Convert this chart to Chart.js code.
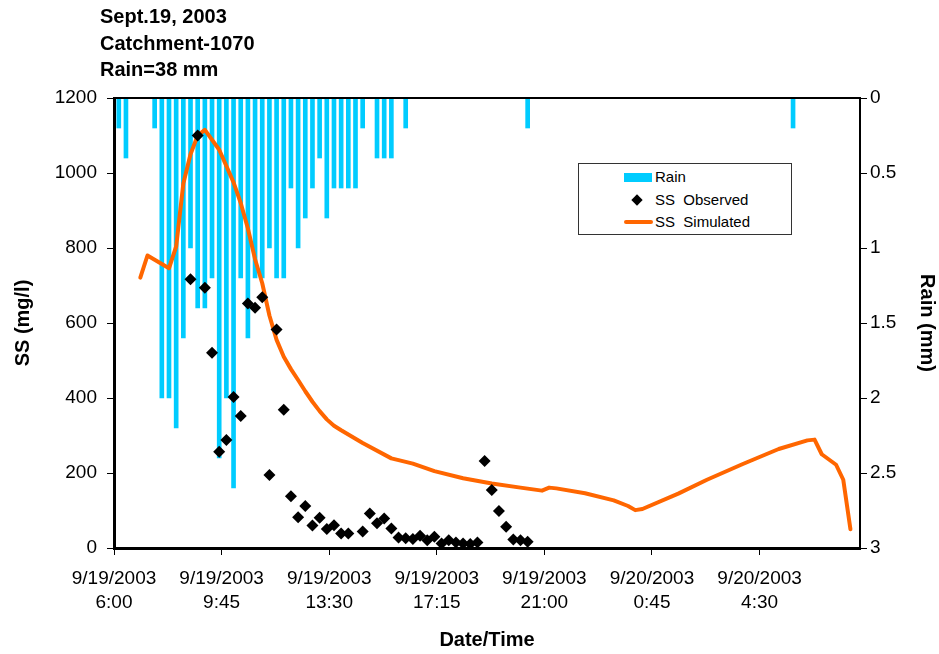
<!DOCTYPE html>
<html>
<head>
<meta charset="utf-8">
<title>SS Catchment-1070</title>
<script src="https://cdn.jsdelivr.net/npm/chart.js@4.4.1/dist/chart.umd.min.js"></script>
<style>
    html, body { margin: 0; padding: 0; background: #fff; }
    #contenedor { position: relative; width: 939px; height: 654px; font-family: "Liberation Sans", Arial, sans-serif; color: #000; }
    #grafico { position: absolute; left: 0; top: 0; }
    #titulo { position: absolute; left: 100px; top: 3px; font-size: 20px; font-weight: bold; line-height: 26.5px; }
    #leyenda { position: absolute; left: 578px; top: 163px; width: 212px; height: 68px; border: 1px solid #333; background: #fff; padding-top: 2px; box-sizing: content-box; }
    #leyenda .fila { position: relative; height: 22.5px; font-size: 15px; line-height: 22.5px; white-space: pre; }
    #leyenda .texto { position: absolute; left: 76px; top: 0; }
    #leyenda .simbolo { position: absolute; }
</style>
</head>
<body>
<div id="contenedor">
    <canvas id="grafico" width="939" height="654"></canvas>
    <div id="titulo">Sept.19, 2003<br>Catchment-1070<br>Rain=38 mm</div>
    <div id="leyenda"></div>
</div>
<script>
const tiemposLluvia = ['9/19 6:10', '9/19 6:25', '9/19 7:25', '9/19 7:40', '9/19 7:55', '9/19 8:10', '9/19 8:25',
    '9/19 8:40', '9/19 8:55', '9/19 9:10', '9/19 9:25', '9/19 9:40', '9/19 9:55', '9/19 10:10', '9/19 10:25',
    '9/19 10:40', '9/19 10:55', '9/19 11:10', '9/19 11:25', '9/19 11:40', '9/19 11:55', '9/19 12:10', '9/19 12:25',
    '9/19 12:40', '9/19 12:55', '9/19 13:10', '9/19 13:25', '9/19 13:40', '9/19 13:55', '9/19 14:10', '9/19 14:25',
    '9/19 14:40', '9/19 15:10', '9/19 15:25', '9/19 15:40', '9/19 16:10', '9/19 20:25', '9/20 5:40'];
const lluvia = [0.2, 0.4, 0.2, 2.0, 2.0, 2.2, 1.6,
    1.0, 1.4, 1.4, 1.2, 2.4, 2.0, 2.6, 1.2,
    1.6, 1.2, 1.2, 1.0, 1.2, 1.2, 0.6, 1.0,
    0.8, 0.6, 0.4, 0.8, 0.6, 0.6, 0.6, 0.6,
    0.2, 0.4, 0.4, 0.4, 0.2, 0.2, 0.2];

const tiemposObservados = ['9/19 8:40', '9/19 8:55', '9/19 9:10', '9/19 9:25', '9/19 9:40', '9/19 9:55', '9/19 10:10',
    '9/19 10:25', '9/19 10:40', '9/19 10:55', '9/19 11:10', '9/19 11:25', '9/19 11:40', '9/19 11:55', '9/19 12:10',
    '9/19 12:25', '9/19 12:40', '9/19 12:55', '9/19 13:10', '9/19 13:25', '9/19 13:40', '9/19 13:55', '9/19 14:10',
    '9/19 14:40', '9/19 14:55', '9/19 15:10', '9/19 15:25', '9/19 15:40', '9/19 15:55', '9/19 16:10', '9/19 16:25',
    '9/19 16:40', '9/19 16:55', '9/19 17:10', '9/19 17:25', '9/19 17:40', '9/19 17:55', '9/19 18:10', '9/19 18:25',
    '9/19 18:40', '9/19 18:55', '9/19 19:10', '9/19 19:25', '9/19 19:40', '9/19 19:55', '9/19 20:10', '9/19 20:25'];
const ssObservado = [717, 1100, 694, 521, 257, 288, 403,
    352, 652, 641, 669, 195, 583, 369, 138,
    82, 112, 60, 81, 51, 61, 39, 39,
    44, 92, 66, 79, 52, 28, 26, 24,
    33, 21, 30, 12, 21, 15, 12, 11,
    15, 232, 155, 99, 57, 23, 21, 17];

const tiemposSimulados = ['9/19 6:55', '9/19 7:10', '9/19 7:55', '9/19 8:10', '9/19 8:25', '9/19 8:40', '9/19 8:55',
    '9/19 9:10', '9/19 9:40', '9/19 10:10', '9/19 10:25', '9/19 10:40', '9/19 10:55', '9/19 11:10', '9/19 11:25',
    '9/19 11:40', '9/19 11:55', '9/19 12:10', '9/19 12:25', '9/19 12:40', '9/19 12:55', '9/19 13:10', '9/19 13:25',
    '9/19 13:40', '9/19 13:55', '9/19 14:40', '9/19 15:40', '9/19 16:25', '9/19 17:10', '9/19 18:10', '9/19 19:10',
    '9/19 20:10', '9/19 20:55', '9/19 21:10', '9/19 21:25', '9/19 22:25', '9/19 23:25', '9/19 23:55', '9/20 0:10',
    '9/20 0:25', '9/20 1:40', '9/20 2:40', '9/20 3:55', '9/20 5:10', '9/20 6:10', '9/20 6:25', '9/20 6:40',
    '9/20 7:10', '9/20 7:25', '9/20 7:40'];
const ssSimulado = [721, 780, 746, 804, 972, 1050, 1100,
    1115, 1062, 975, 920, 852, 770, 706, 620,
    555, 510, 477, 448, 418, 390, 365, 343,
    326, 314, 280, 239, 225, 205, 186, 172,
    161, 153, 161, 159, 146, 127, 112, 101,
    104, 145, 182, 224, 264, 287, 289, 250,
    222, 182, 50];

const etiquetasEje = ['9/19 6:00', '9/19 9:45', '9/19 13:30', '9/19 17:15', '9/19 21:00', '9/20 0:45', '9/20 4:30'];

// horas contadas desde 9/19 00:00
const aHoras = (texto) => {
    const [fecha, hora] = texto.split(' ');
    const dia = Number(fecha.split('/')[1]);
    const [h, m] = hora.split(':').map(Number);
    return (dia - 19) * 24 + h + m / 60;
};

const formatoFecha = (valor) => {
    const dia = 19 + Math.floor(valor / 24);
    const minutos = Math.round((valor - Math.floor(valor / 24) * 24) * 60);
    const h = Math.floor(minutos / 60);
    const m = minutos % 60;
    return ['9/' + dia + '/2003', h + ':' + String(m).padStart(2, '0')];
};

const aPuntos = (tiempos, valores) => tiempos.map((t, i) => ({ x: aHoras(t), y: valores[i] }));

const bordeSuperior = {
    id: 'bordeSuperior',
    afterDraw(chart) {
        const { ctx, chartArea } = chart;
        ctx.save();
        ctx.strokeStyle = '#000';
        ctx.lineWidth = 2;
        ctx.beginPath();
        ctx.moveTo(chartArea.left, chartArea.top);
        ctx.lineTo(chartArea.right, chartArea.top);
        ctx.stroke();
        ctx.restore();
    }
};

const fuenteTicks = { family: '"Liberation Sans", Arial, sans-serif', size: 19, lineHeight: 1.25 };
const fuenteTitulo = { family: '"Liberation Sans", Arial, sans-serif', size: 20, weight: 'bold' };

const grafico = new Chart(document.getElementById('grafico'), {
    data: {
        datasets: [
            {
                type: 'bar',
                label: 'Rain',
                data: aPuntos(tiemposLluvia, lluvia),
                yAxisID: 'y2',
                backgroundColor: '#00CCFF',
                barThickness: 4,
                order: 3
            },
            {
                type: 'line',
                label: 'SS  Observed',
                data: aPuntos(tiemposObservados, ssObservado),
                yAxisID: 'y',
                showLine: false,
                pointStyle: 'rectRot',
                pointRadius: 6,
                pointBackgroundColor: '#000',
                pointBorderColor: '#000',
                pointBorderWidth: 0,
                order: 1
            },
            {
                type: 'line',
                label: 'SS  Simulated',
                data: aPuntos(tiemposSimulados, ssSimulado),
                yAxisID: 'y',
                borderColor: '#FF6600',
                borderWidth: 4,
                pointRadius: 0,
                tension: 0,
                borderJoinStyle: 'round',
                borderCapStyle: 'round',
                order: 2
            }
        ]
    },
    options: {
        responsive: false,
        animation: false,
        events: [],
        layout: { padding: { top: 98, left: 0, right: 0, bottom: 0 } },
        plugins: {
            legend: { display: false },
            tooltip: { enabled: false }
        },
        scales: {
            x: {
                type: 'linear',
                position: 'bottom',
                offset: false,
                min: aHoras('9/19 6:00'),
                max: aHoras('9/20 8:00'),
                afterBuildTicks: (eje) => { eje.ticks = etiquetasEje.map(t => ({ value: aHoras(t) })); },
                afterFit: (eje) => { eje.height = 106; },
                ticks: { callback: (v) => formatoFecha(v), color: '#000', font: fuenteTicks, maxRotation: 0, autoSkip: false, padding: 12 },
                grid: { offset: false, drawOnChartArea: false, color: '#000', tickLength: 7, tickWidth: 1 },
                border: { color: '#000', width: 3 },
                title: { display: true, text: 'Date/Time', color: '#000', font: fuenteTitulo, padding: { top: 0, bottom: 2 } }
            },
            y: {
                position: 'left',
                min: 0,
                max: 1200,
                afterFit: (eje) => { eje.width = 114; },
                ticks: { stepSize: 200, callback: (v) => String(v), color: '#000', font: fuenteTicks, padding: 10 },
                grid: { drawOnChartArea: false, color: '#000', tickLength: 7, tickWidth: 1 },
                border: { color: '#000', width: 3 },
                title: { display: true, text: 'SS (mg/l)', color: '#000', font: fuenteTitulo, padding: { top: 11, bottom: 0 } }
            },
            y2: {
                position: 'right',
                reverse: true,
                min: 0,
                max: 3,
                afterFit: (eje) => { eje.width = 79; },
                ticks: { stepSize: 0.5, callback: (v) => String(v), color: '#000', font: fuenteTicks, padding: 3 },
                grid: { drawOnChartArea: false, color: '#000', tickLength: 7, tickWidth: 1 },
                border: { color: '#000', width: 2 },
                title: { display: true, text: 'Rain (mm)', color: '#000', font: fuenteTitulo, padding: { top: 0, bottom: 0 } }
            }
        }
    },
    plugins: [bordeSuperior]
});

// leyenda en HTML a partir de las series
const leyenda = document.getElementById('leyenda');
grafico.data.datasets.forEach((ds) => {
    const fila = document.createElement('div');
    fila.className = 'fila';
    const simbolo = document.createElement('span');
    simbolo.className = 'simbolo';
    if (ds.type === 'bar') {
        simbolo.style.cssText = `left:45px;top:7px;width:28px;height:9px;background:${ds.backgroundColor};`;
    } else if (ds.showLine === false) {
        simbolo.style.cssText = `left:54px;top:7px;width:8px;height:8px;background:${ds.pointBackgroundColor};transform:rotate(45deg);`;
    } else {
        simbolo.style.cssText = `left:45px;top:9px;width:29px;height:4px;border-radius:2px;background:${ds.borderColor};`;
    }
    const texto = document.createElement('span');
    texto.className = 'texto';
    texto.textContent = ds.label;
    fila.appendChild(simbolo);
    fila.appendChild(texto);
    leyenda.appendChild(fila);
});
</script>
</body>
</html>
